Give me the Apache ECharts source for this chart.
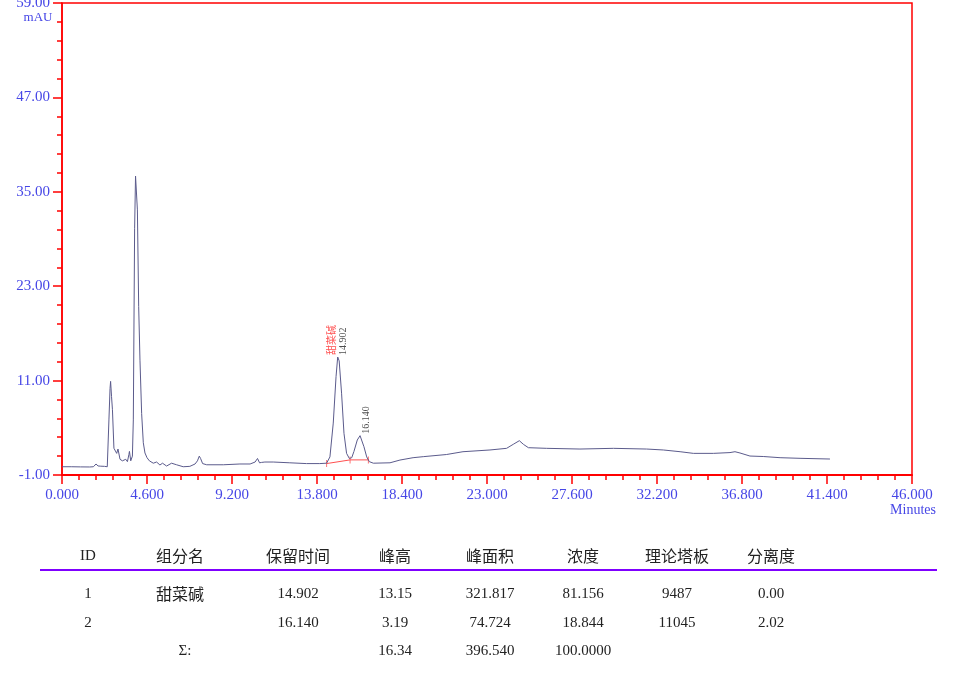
<!DOCTYPE html>
<html><head><meta charset="utf-8">
<script src="https://cdn.jsdelivr.net/npm/echarts@6/dist/echarts.min.js"></script>
<style>html,body{margin:0;padding:0;background:#fff}#c{width:956px;height:686px}</style>
</head><body><div id="c"></div>
<script>
// ---- chromatogram trace (minutes, mAU) ----
const times = [0.0,0.5,1.0,1.5,1.7,1.84,1.95,2.1,2.3,2.45,2.54,2.6,2.63,2.68,2.73,2.81,2.88,2.96,3.03,3.14,3.27,3.45,3.54,3.62,3.65,3.72,3.81,3.86,3.93,3.98,4.03,4.08,4.15,4.22,4.31,4.4,4.49,4.6,4.73,4.94,5.12,5.3,5.44,5.66,5.93,6.2,6.56,6.92,7.2,7.33,7.43,7.5,7.61,7.83,8.73,9.63,10.18,10.45,10.58,10.69,10.8,10.98,11.43,12.33,13.23,13.95,14.32,14.5,14.68,14.83,14.92,15.0,15.13,15.26,15.4,15.55,15.68,15.8,15.98,16.13,16.22,16.34,16.49,16.63,16.85,17.75,18.29,19.0,19.55,20.8,21.7,23.16,24.06,24.42,24.75,24.97,25.24,26.23,28.03,29.84,31.64,32.54,33.45,34.17,35.25,36.15,36.42,36.69,37.23,37.95,38.86,39.94,41.56];
const signal = [0.05,0.05,0.03,0.02,0.05,0.4,0.15,0.12,0.1,0.05,6.0,10.0,10.9,9.0,7.3,2.4,2.2,1.75,2.3,1.0,0.8,1.0,0.7,1.6,2.0,0.8,1.4,6.0,30.3,37.0,37.2,32.7,20.4,13.6,6.8,3.1,1.8,1.2,0.8,0.5,0.65,0.27,0.5,0.14,0.5,0.3,0.05,0.1,0.4,0.8,1.4,1.1,0.45,0.3,0.3,0.4,0.4,0.65,1.1,0.55,0.6,0.65,0.65,0.55,0.45,0.45,0.5,1.3,5.6,11.5,14.0,13.5,9.4,4.3,1.75,1.1,1.2,2.0,3.45,4.0,3.8,2.6,1.3,0.7,0.5,0.55,0.9,1.2,1.33,1.6,1.96,2.18,2.39,2.9,3.36,2.9,2.47,2.39,2.3,2.39,2.3,2.18,1.96,1.75,1.75,1.85,1.96,1.8,1.41,1.35,1.2,1.12,1.03];

// ---- integration baseline (red) ----
const baseTimes = [14.32, 15.59, 16.58];
const baseValues = [0.45, 0.92, 0.92];

// ---- peak annotations ----
const peakTimes = [14.902, 16.140];
const peakApex = [14.0, 4.0];
const peakNames = ['甜菜碱', ''];
const peakLabels = ['14.902', '16.140'];

// ---- axis ticks ----
const xMin = 0, xMax = 46, xStep = 4.6;
const yMin = -1, yMax = 59, yStep = 12;

// ---- results table ----
const tableHeaders = ['ID','组分名','保留时间','峰高','峰面积','浓度','理论塔板','分离度'];
const colIds = ['1','2'];
const colNames = ['甜菜碱',''];
const colRetTimes = ['14.902','16.140'];
const colHeights = ['13.15','3.19'];
const colAreas = ['321.817','74.724'];
const colConcs = ['81.156','18.844'];
const colPlates = ['9487','11045'];
const colResolutions = ['0.00','2.02'];
const sumRow = ['Σ:','','','16.34','396.540','100.0000'];

const blue = '#4646e6';
const red = '#ff0000';
const numFont = '"Liberation Serif", serif';
const cjkFont = '"Noto Sans CJK SC", sans-serif';

const chart = echarts.init(document.getElementById('c'), null, {renderer:'canvas'});

const colX = [88,180,298,395,490,583,677,771];
const headerY = 556, rowY = [594, 623], sumY = 651;
const graphics = [];
tableHeaders.forEach((h,i)=>{
  graphics.push({type:'text', x:colX[i], y:headerY, style:{text:h, fill:'#222', align:'center', verticalAlign:'middle',
    font: (i===0 ? '15px ' + numFont : '16px ' + cjkFont)}});
});
graphics.push({type:'line', shape:{x1:40,y1:570,x2:937,y2:570}, style:{stroke:'#7f00ff', lineWidth:2}});
const cols = [colIds,colNames,colRetTimes,colHeights,colAreas,colConcs,colPlates,colResolutions];
rowY.forEach((yy,r)=>{
  cols.forEach((col,i)=>{
    const t = col[r];
    if(!t) return;
    const isCjk = /[\u4e00-\u9fff]/.test(t);
    graphics.push({type:'text', x:colX[i], y:yy, style:{text:t, fill:'#222', align:'center', verticalAlign:'middle',
      font: isCjk ? '16px ' + cjkFont : '15px ' + numFont}});
  });
});
sumRow.forEach((t,i)=>{
  if(!t) return;
  graphics.push({type:'text', x:(i===0?185:colX[i]), y:sumY, style:{text:t, fill:'#222', align:'center', verticalAlign:'middle',
    font:'15px ' + numFont}});
});
graphics.push({type:'text', x:38, y:18, style:{text:'mAU', fill:blue, align:'center', verticalAlign:'middle', font:'13px ' + numFont}});
graphics.push({type:'text', x:913, y:510, style:{text:'Minutes', fill:blue, align:'center', verticalAlign:'middle', font:'14px ' + numFont}});

chart.setOption({
  animation:false,
  backgroundColor:'#fff',
  grid:{left:62, right:44, top:3, bottom:211, outerBoundsMode:'none', containLabel:false,
        show:true, borderColor:red, borderWidth:1.5, backgroundColor:'transparent'},
  xAxis:{
    type:'value', min:xMin, max:xMax, interval:xStep,
    axisLine:{show:true, onZero:false, lineStyle:{color:red, width:2}},
    axisTick:{show:true, length:9, lineStyle:{color:red, width:1.5}},
    minorTick:{show:true, splitNumber:5, length:5, lineStyle:{color:red, width:1.5}},
    splitLine:{show:false},
    axisLabel:{color:blue, fontFamily:numFont, fontSize:15, margin:13, formatter:v=>v.toFixed(3)}
  },
  yAxis:{
    type:'value', min:yMin, max:yMax, interval:yStep,
    axisLine:{show:true, onZero:false, lineStyle:{color:red, width:1.5}},
    axisTick:{show:true, length:9, lineStyle:{color:red, width:1.5}},
    minorTick:{show:true, splitNumber:5, length:5, lineStyle:{color:red, width:1.5}},
    splitLine:{show:false},
    axisLabel:{color:blue, fontFamily:numFont, fontSize:15, margin:12, formatter:v=>v.toFixed(2)}
  },
  graphic:graphics,
  series:[
    {type:'line', data:times.map((t,i)=>[t,signal[i]]), showSymbol:false, symbol:'none',
     lineStyle:{color:'#5b5b8c', width:1}, z:3},
    {type:'line', data:baseTimes.map((t,i)=>[t,baseValues[i]]), showSymbol:false, symbol:'none',
     lineStyle:{color:'#ff5050', width:1}, z:2},
    {type:'scatter', data:baseTimes.map((t,i)=>[t,baseValues[i]]), symbol:'rect', symbolSize:[1,7],
     itemStyle:{color:'#ff5050'}, z:2},
    {type:'scatter', data:peakTimes.map((t,i)=>[t,peakApex[i]]), symbolSize:0, z:4,
     label:{show:true, position:'top', distance:2, rotate:90, align:'left', verticalAlign:'middle',
       formatter:p=>'{a|' + (peakNames[p.dataIndex]||' ') + '}\n{b|' + peakLabels[p.dataIndex] + '}',
       rich:{a:{color:'#ff2020', fontFamily:cjkFont, fontSize:10, lineHeight:12},
             b:{color:'#222', fontFamily:numFont, fontSize:10, lineHeight:12}}}}
  ]
});
</script>
</body></html>
